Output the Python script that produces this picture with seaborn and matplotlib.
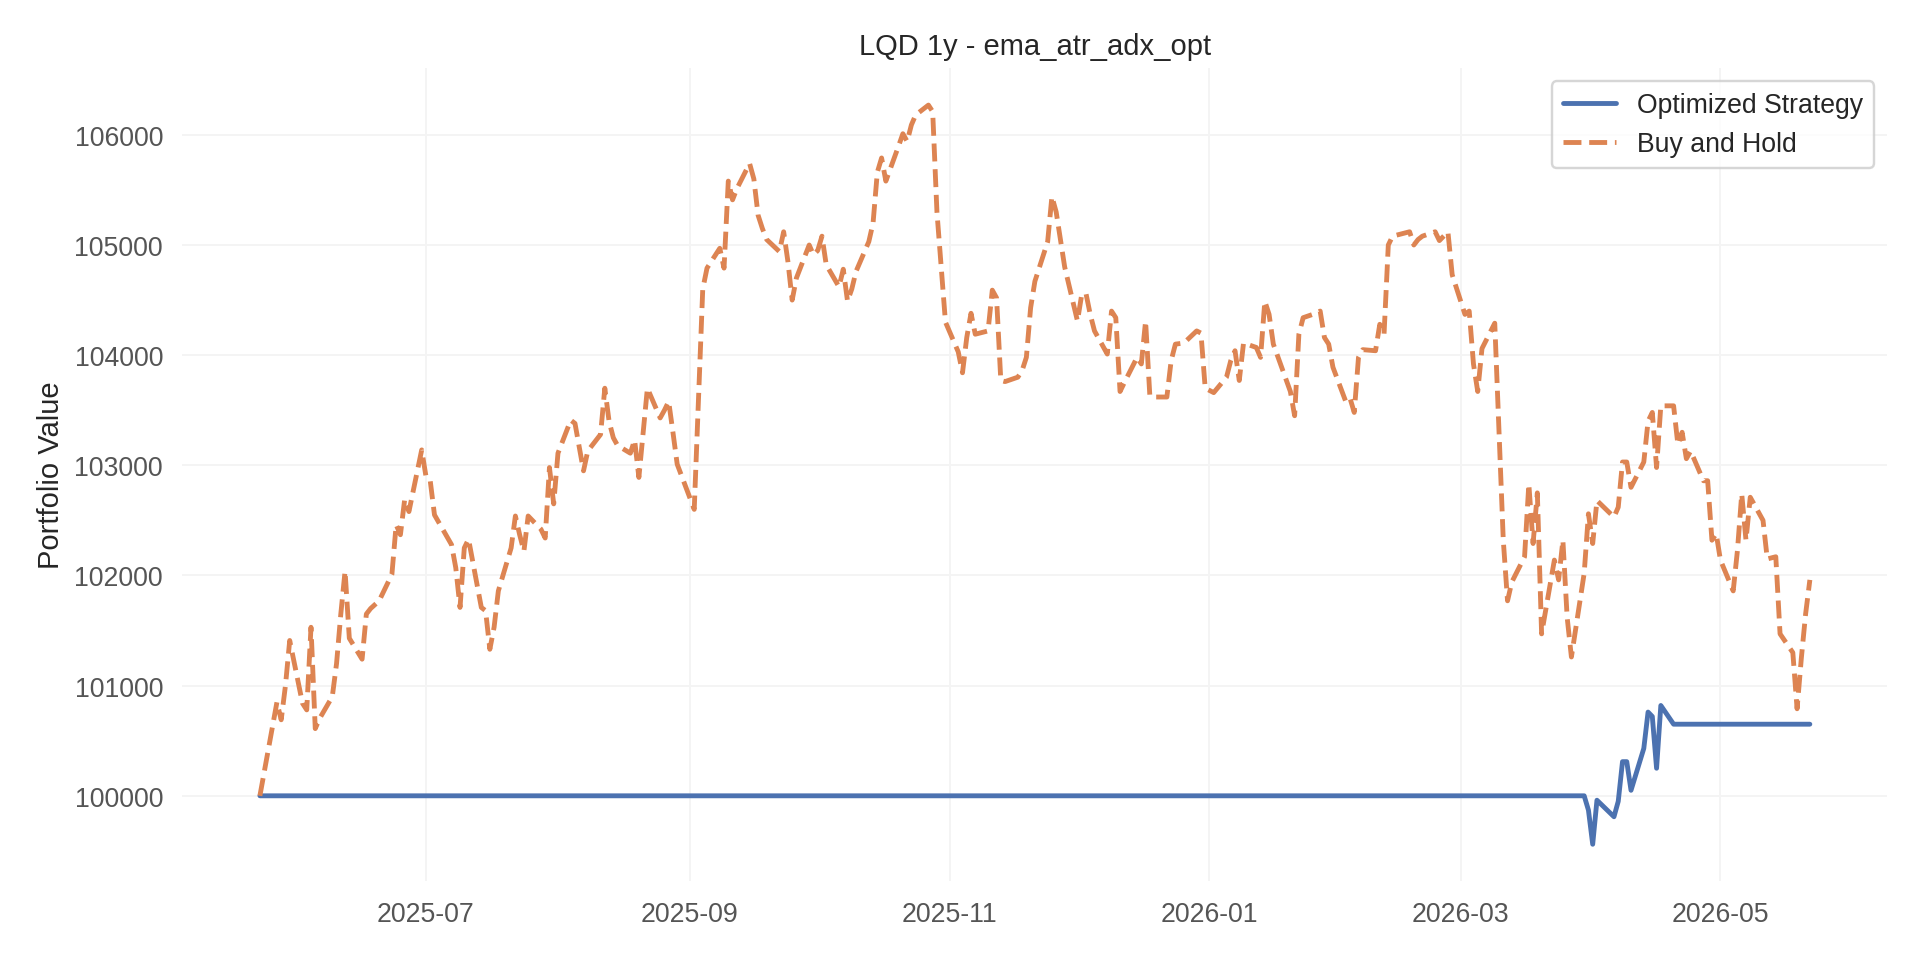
import pandas as pd
import matplotlib.pyplot as plt
import matplotlib.dates as mdates
import seaborn as sns

# Optimized strategy: flat in cash most of the year, trades only in April 2026
strategy_dates = [
    "2025-05-23", "2026-03-30", "2026-03-31", "2026-04-01", "2026-04-02",
    "2026-04-06", "2026-04-07", "2026-04-08", "2026-04-09", "2026-04-10",
    "2026-04-13", "2026-04-14", "2026-04-15", "2026-04-16", "2026-04-17",
    "2026-04-20", "2026-05-22",
]
strategy_values = [
    100000, 100000, 99870, 99560, 99960,
    99810, 99950, 100310, 100310, 100050,
    100430, 100760, 100720, 100250, 100820,
    100650, 100650,
]

# Buy and hold LQD
hold_dates = [
    "2025-05-23", "2025-05-27", "2025-05-28", "2025-05-29", "2025-05-30",
    "2025-06-02", "2025-06-03", "2025-06-04", "2025-06-05", "2025-06-06",
    "2025-06-09", "2025-06-10", "2025-06-11", "2025-06-12", "2025-06-13",
    "2025-06-16", "2025-06-17", "2025-06-18", "2025-06-20", "2025-06-23",
    "2025-06-24", "2025-06-25", "2025-06-26", "2025-06-27", "2025-06-30",
    "2025-07-01", "2025-07-02", "2025-07-03", "2025-07-07", "2025-07-08",
    "2025-07-09", "2025-07-10", "2025-07-11", "2025-07-14", "2025-07-15",
    "2025-07-16", "2025-07-17", "2025-07-18", "2025-07-21", "2025-07-22",
    "2025-07-23", "2025-07-24", "2025-07-25", "2025-07-28", "2025-07-29",
    "2025-07-30", "2025-07-31", "2025-08-01", "2025-08-04", "2025-08-05",
    "2025-08-07", "2025-08-08", "2025-08-11", "2025-08-12", "2025-08-13",
    "2025-08-14", "2025-08-15", "2025-08-18", "2025-08-19", "2025-08-20",
    "2025-08-22", "2025-08-25", "2025-08-26", "2025-08-27", "2025-08-28",
    "2025-08-29", "2025-09-02", "2025-09-03", "2025-09-04", "2025-09-05",
    "2025-09-08", "2025-09-09", "2025-09-10", "2025-09-11", "2025-09-12",
    "2025-09-15", "2025-09-16", "2025-09-17", "2025-09-18", "2025-09-19",
    "2025-09-22", "2025-09-23", "2025-09-24", "2025-09-25", "2025-09-26",
    "2025-09-29", "2025-09-30", "2025-10-01", "2025-10-02", "2025-10-03",
    "2025-10-06", "2025-10-07", "2025-10-08", "2025-10-09", "2025-10-10",
    "2025-10-13", "2025-10-14", "2025-10-15", "2025-10-16", "2025-10-17",
    "2025-10-20", "2025-10-21", "2025-10-22", "2025-10-23", "2025-10-24",
    "2025-10-27", "2025-10-28", "2025-10-29", "2025-10-30", "2025-10-31",
    "2025-11-03", "2025-11-04", "2025-11-05", "2025-11-06", "2025-11-07",
    "2025-11-10", "2025-11-11", "2025-11-12", "2025-11-13", "2025-11-14",
    "2025-11-17", "2025-11-18", "2025-11-19", "2025-11-20", "2025-11-21",
    "2025-11-24", "2025-11-25", "2025-11-26", "2025-11-28", "2025-12-01",
    "2025-12-02", "2025-12-03", "2025-12-04", "2025-12-05", "2025-12-08",
    "2025-12-09", "2025-12-10", "2025-12-11", "2025-12-12", "2025-12-15",
    "2025-12-16", "2025-12-17", "2025-12-18", "2025-12-19", "2025-12-22",
    "2025-12-23", "2025-12-24", "2025-12-26", "2025-12-29", "2025-12-30",
    "2025-12-31", "2026-01-02", "2026-01-05", "2026-01-06", "2026-01-07",
    "2026-01-08", "2026-01-09", "2026-01-12", "2026-01-13", "2026-01-14",
    "2026-01-15", "2026-01-16", "2026-01-20", "2026-01-21", "2026-01-22",
    "2026-01-23", "2026-01-26", "2026-01-27", "2026-01-28", "2026-01-29",
    "2026-01-30", "2026-02-02", "2026-02-03", "2026-02-04", "2026-02-05",
    "2026-02-06", "2026-02-09", "2026-02-10", "2026-02-11", "2026-02-12",
    "2026-02-13", "2026-02-17", "2026-02-18", "2026-02-19", "2026-02-20",
    "2026-02-23", "2026-02-24", "2026-02-25", "2026-02-26", "2026-02-27",
    "2026-03-02", "2026-03-03", "2026-03-04", "2026-03-05", "2026-03-06",
    "2026-03-09", "2026-03-11", "2026-03-12", "2026-03-13", "2026-03-16",
    "2026-03-17", "2026-03-18", "2026-03-19", "2026-03-20", "2026-03-23",
    "2026-03-24", "2026-03-25", "2026-03-26", "2026-03-27", "2026-03-30",
    "2026-03-31", "2026-04-01", "2026-04-02", "2026-04-06", "2026-04-07",
    "2026-04-08", "2026-04-09", "2026-04-10", "2026-04-13", "2026-04-14",
    "2026-04-15", "2026-04-16", "2026-04-17", "2026-04-20", "2026-04-21",
    "2026-04-22", "2026-04-23", "2026-04-24", "2026-04-27", "2026-04-28",
    "2026-04-29", "2026-04-30", "2026-05-01", "2026-05-04", "2026-05-05",
    "2026-05-06", "2026-05-07", "2026-05-08", "2026-05-11", "2026-05-12",
    "2026-05-13", "2026-05-14", "2026-05-15", "2026-05-18", "2026-05-19",
    "2026-05-20", "2026-05-21", "2026-05-22",
]
hold_values = [
    100000, 100850, 100690, 101000, 101410,
    100840, 100780, 101530, 100610, 100700,
    100900, 101200, 101650, 102040, 101430,
    101240, 101650, 101700, 101770, 102010,
    102460, 102370, 102690, 102580, 103140,
    102900, 102860, 102550, 102280, 102070,
    101710, 102250, 102330, 101710, 101680,
    101330, 101530, 101860, 102250, 102540,
    102370, 102220, 102540, 102420, 102340,
    102980, 102650, 103110, 103410, 103380,
    102950, 103130, 103280, 103700, 103400,
    103250, 103180, 103110, 103230, 102890,
    103700, 103430, 103500, 103580, 103300,
    103010, 102600, 103600, 104600, 104790,
    104970, 104790, 105580, 105410, 105510,
    105740, 105600, 105270, 105150, 105050,
    104940, 105120, 104850, 104500, 104700,
    105000, 104910, 104950, 105080, 104820,
    104620, 104780, 104490, 104600, 104760,
    105030, 105200, 105660, 105790, 105580,
    105900, 106010, 105940, 106090, 106180,
    106270, 106210, 105300, 104800, 104300,
    104030, 103840, 104160, 104380, 104190,
    104220, 104590, 104520, 103770, 103760,
    103800, 103860, 103980, 104430, 104670,
    105030, 105440, 105300, 104800, 104310,
    104550, 104560, 104370, 104220, 104010,
    104400, 104340, 103670, 103750, 103980,
    103920, 104310, 103630, 103620, 103620,
    103950, 104100, 104110, 104220, 104200,
    103700, 103660, 103800, 103950, 104040,
    103770, 104110, 104070, 103980, 104490,
    104370, 104100, 103670, 103450, 104190,
    104340, 104380, 104400, 104160, 104100,
    103890, 103580, 103610, 103480, 103980,
    104050, 104040, 104280, 104190, 105000,
    105080, 105120, 105000, 105050, 105080,
    105120, 105040, 105080, 105120, 104730,
    104370, 104400, 103920, 103670, 104060,
    104290, 102320, 101770, 101940, 102170,
    102830, 102290, 102750, 101470, 102140,
    101960, 102320, 101620, 101260, 102020,
    102560, 102290, 102680, 102530, 102620,
    103030, 103030, 102800, 103030, 103400,
    103480, 102980, 103540, 103540, 103190,
    103300, 103060, 103130, 102860, 102860,
    102320, 102380, 102140, 101860, 102230,
    102740, 102320, 102710, 102500, 102150,
    102160, 102170, 101470, 101300, 100790,
    101250, 101650, 101960,
]

sns.set_theme(style="whitegrid", context="notebook")
plt.rcParams['font.family'] = ['Liberation Sans', 'DejaVu Sans']

fig, ax = plt.subplots(figsize=(11, 5.5), dpi=1920 / 11)
fig.subplots_adjust(left=0.095, right=0.983, top=0.928, bottom=0.081)

sns.lineplot(x=pd.to_datetime(strategy_dates), y=strategy_values,
             label="Optimized Strategy", color="#4C72B0", linewidth=2, ax=ax)
sns.lineplot(x=pd.to_datetime(hold_dates), y=hold_values,
             label="Buy and Hold", color="#DD8452", linewidth=2,
             linestyle="--", ax=ax)

ax.set_title("LQD 1y - ema_atr_adx_opt", fontsize=12, color="#262626")
ax.set_xlabel("")
ax.set_ylabel("Portfolio Value", fontsize=12, color="#262626")

ax.xaxis.set_major_locator(mdates.MonthLocator(bymonth=[1, 3, 5, 7, 9, 11]))
ax.xaxis.set_major_formatter(mdates.DateFormatter("%Y-%m"))
ax.ticklabel_format(axis="y", style="plain", useOffset=False)
ax.tick_params(axis="both", labelsize=11, labelcolor="#555555", length=0, pad=8)

# very faint grid like the original
ax.grid(True, color="#f4f4f4", linewidth=0.8)
sns.despine(ax=ax, left=True, bottom=True)

ax.legend(loc="upper right", frameon=True, fontsize=11)

fig.savefig("out.png", dpi=fig.dpi)
